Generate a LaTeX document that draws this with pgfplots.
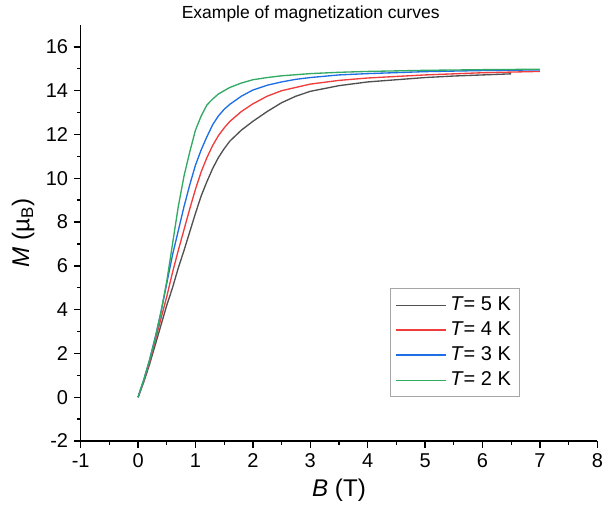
\documentclass[border=0pt]{standalone}
\usepackage{pgfplots}
\pgfplotsset{compat=1.18}
\usepackage{fontspec}
\setmainfont{Liberation Sans}
\definecolor{cgray}{RGB}{80,80,80}
\definecolor{cred}{RGB}{240,60,60}
\definecolor{cblue}{RGB}{30,110,230}
\definecolor{cgreen}{RGB}{50,170,100}
\begin{document}
\begin{tikzpicture}
\begin{axis}[
  scale only axis, width=310pt, height=249.6pt,
  xmin=-1, xmax=8, ymin=-2, ymax=17,
  axis x line*=bottom, axis y line*=left,
  axis line style={line width=0.9pt, -},
  xtick={-1,0,...,8}, ytick={-2,0,...,16},
  minor x tick num=1, minor y tick num=1,
  tick align=outside,
  major tick length=4pt, minor tick length=2.2pt,
  every tick/.style={line width=0.8pt, black},
  ticklabel style={font=\fontsize{12}{14}\selectfont},
  /pgf/number format/assume math mode=true,
  xlabel={\textit{B} (T)}, ylabel={\textit{M} (µ\textsubscript{B})},
  label style={font=\fontsize{14.5}{17}\selectfont},
  legend style={at={(0.599,0.105)}, anchor=south west, draw=gray!70, line width=0.6pt,
    font=\fontsize{12}{14}\selectfont, row sep=1.2pt, inner sep=3pt},
  legend cell align=left,
  legend image code/.code={\draw[#1,line width=0.8pt] (0pt,0pt) -- (30pt,0pt);},
  every axis plot/.append style={line width=0.8pt},
]
\addplot[cgray] coordinates {
(0,0) (0.1,0.7) (0.2,1.5) (0.3,2.4) (0.4,3.3) (0.5,4.2) (0.6,5.0) (0.7,5.9) (0.8,6.7) (0.9,7.55)
(1.0,8.4) (1.1,9.2) (1.2,9.85) (1.3,10.45) (1.4,10.95) (1.5,11.35) (1.6,11.7) (1.8,12.2) (2.0,12.6)
(2.25,13.05) (2.5,13.45) (2.75,13.75) (3.0,13.97) (3.5,14.23) (4.0,14.4) (4.5,14.5) (5.0,14.6)
(5.5,14.67) (6.0,14.72) (6.5,14.77)};
\addlegendentry{\textit{T}= 5 K}
\addplot[cred] coordinates {
(0,0) (0.1,0.75) (0.2,1.6) (0.3,2.6) (0.4,3.6) (0.5,4.6) (0.6,5.7) (0.7,6.7) (0.8,7.65) (0.9,8.6)
(1.0,9.5) (1.1,10.3) (1.2,10.95) (1.3,11.5) (1.4,11.95) (1.5,12.3) (1.6,12.6) (1.8,13.05) (2.0,13.4)
(2.25,13.75) (2.5,14.0) (2.75,14.15) (3.0,14.3) (3.5,14.47) (4.0,14.58) (5.0,14.72) (6.0,14.82) (7.0,14.88)};
\addlegendentry{\textit{T}= 4 K}
\addplot[cblue] coordinates {
(0,0) (0.1,0.8) (0.2,1.7) (0.3,2.75) (0.4,3.9) (0.5,5.2) (0.6,6.5) (0.7,7.6) (0.8,8.7) (0.9,9.7)
(1.0,10.6) (1.1,11.3) (1.2,11.9) (1.3,12.45) (1.4,12.85) (1.5,13.15) (1.6,13.38) (1.8,13.75) (2.0,14.03)
(2.25,14.25) (2.5,14.4) (2.75,14.52) (3.0,14.6) (3.5,14.72) (4.0,14.78) (5.0,14.87) (6.0,14.92) (7.0,14.95)};
\addlegendentry{\textit{T}= 3 K}
\addplot[cgreen] coordinates {
(0,0) (0.1,0.8) (0.2,1.7) (0.3,2.7) (0.4,3.9) (0.5,5.3) (0.6,7.0) (0.7,8.7) (0.8,10.1) (0.9,11.2)
(1.0,12.2) (1.1,12.85) (1.2,13.35) (1.3,13.62) (1.4,13.85) (1.5,14.0) (1.6,14.15) (1.8,14.35) (2.0,14.5)
(2.25,14.6) (2.5,14.68) (3.0,14.78) (3.5,14.84) (4.0,14.88) (5.0,14.93) (6.0,14.96) (7.0,14.98)};
\addlegendentry{\textit{T}= 2 K}
\end{axis}
\node[anchor=base, font=\fontsize{10.5}{12}\selectfont, inner sep=0pt]
  at (138pt,253.5pt) {Example of magnetization curves};
\pgfresetboundingbox
\path (-48.4pt,-44.4pt) rectangle (314pt,264.6pt);
\end{tikzpicture}
\end{document}
